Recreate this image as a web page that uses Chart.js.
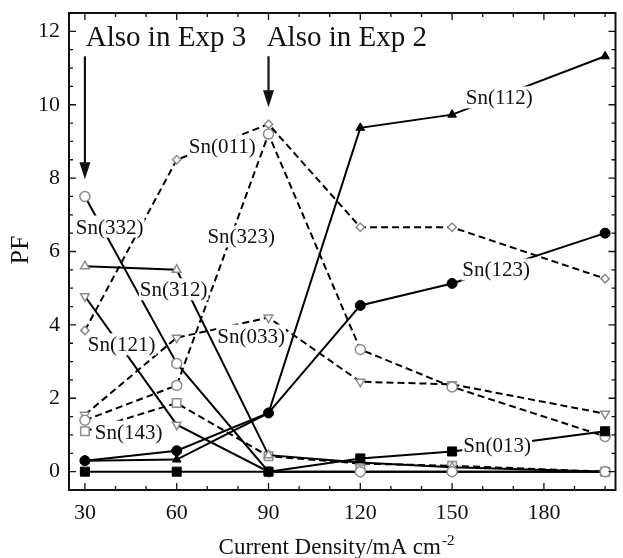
<!DOCTYPE html>
<html>
<head>
<meta charset="utf-8">
<script src="https://cdn.jsdelivr.net/npm/chart.js@4.4.1/dist/chart.umd.min.js"></script>
<style>
  html, body { margin: 0; padding: 0; background: #fff; }
  #wrap { width: 623px; height: 558px; }
</style>
</head>
<body>
<div id="wrap"><canvas id="pf" width="623" height="558"></canvas></div>
<script>
// Current density (mA cm^-2) and preferred-orientation factor of each Sn plane
const currentDensity = [30, 60, 90, 120, 150, 200];
const sn112 = [0.3, 0.33, 1.6, 9.37, 9.73, 11.32];
const sn123 = [0.3, 0.57, 1.6, 4.53, 5.13, 6.5];
const sn013 = [0, 0, 0, 0.36, 0.55, 1.1];
const sn332 = [7.5, 2.95, 0, 0, 0, 0];
const sn312 = [5.6, 5.5, 0.45, 0.25, 0.12, 0];
const sn121 = [4.78, 1.28, 0, 0, 0, 0];
const sn011 = [3.85, 8.5, 9.47, 6.66, 6.66, 5.26];
const sn323 = [1.4, 2.35, 9.2, 3.33, 2.31, 0.96];
const sn033 = [1.55, 3.65, 4.2, 2.45, 2.38, 1.58];
const sn143 = [1.1, 1.87, 0.42, 0.22, 0.16, 0];
const xTicks = [30, 60, 90, 120, 150, 180];
const yTicks = [0, 2, 4, 6, 8, 10, 12];

const SERIF = '"Liberation Serif", "Times New Roman", serif';
const OPEN_GREY = '#8c8c8c';

// marker / line style per plane
const seriesDefs = [
  { name: 'Sn(112)', values: sn112, style: 'triangle', filled: true,  dashed: false, r: 5 },
  { name: 'Sn(123)', values: sn123, style: 'circle',   filled: true,  dashed: false, r: 5 },
  { name: 'Sn(013)', values: sn013, style: 'rect',     filled: true,  dashed: false, r: 6.4 },
  { name: 'Sn(332)', values: sn332, style: 'circle',   filled: false, dashed: false, r: 5 },
  { name: 'Sn(312)', values: sn312, style: 'triangle', filled: false, dashed: false, r: 5 },
  { name: 'Sn(121)', values: sn121, style: 'triangle', filled: false, dashed: false, r: 5, rot: 180 },
  { name: 'Sn(011)', values: sn011, style: 'rectRot',  filled: false, dashed: true,  r: 4.2 },
  { name: 'Sn(323)', values: sn323, style: 'circle',   filled: false, dashed: true,  r: 5 },
  { name: 'Sn(033)', values: sn033, style: 'triangle', filled: false, dashed: true,  r: 5, rot: 180 },
  { name: 'Sn(143)', values: sn143, style: 'rect',     filled: false, dashed: true,  r: 6 }
];

// where each plane's name is written (data coordinates)
const planeLabels = [
  { text: 'Sn(011)', x: 74.9, y: 8.87 },
  { text: 'Sn(332)', x: 38.1, y: 6.68 },
  { text: 'Sn(323)', x: 81.1, y: 6.41 },
  { text: 'Sn(112)', x: 165.4, y: 10.2 },
  { text: 'Sn(123)', x: 164.4, y: 5.51 },
  { text: 'Sn(312)', x: 59.0, y: 4.97 },
  { text: 'Sn(033)', x: 84.3, y: 3.71 },
  { text: 'Sn(121)', x: 42.0, y: 3.47 },
  { text: 'Sn(143)', x: 44.3, y: 1.09 },
  { text: 'Sn(013)', x: 164.7, y: 0.74 }
];

// "Also in Exp" call-outs: text start, arrow top and arrow tip
const callouts = [
  { text: 'Also in Exp 3', tx: 30.3, ty: 11.6, ax: 30, y0: 11.32, y1: 7.97 },
  { text: 'Also in Exp 2', tx: 89.4, ty: 11.6, ax: 90, y0: 11.32, y1: 9.93 }
];

const datasets = seriesDefs.map(d => ({
  label: d.name,
  data: currentDensity.map((x, i) => ({ x, y: d.values[i] })),
  borderColor: '#000',
  borderWidth: 2,
  borderDash: d.dashed ? [7, 4] : [],
  tension: 0,
  fill: false,
  pointStyle: d.style,
  pointRotation: d.rot || 0,
  pointRadius: d.r,
  pointBorderWidth: d.filled ? 1 : 1.5,
  pointBorderColor: d.filled ? '#000' : OPEN_GREY,
  pointBackgroundColor: d.filled ? '#000' : '#fff'
}));

const decorations = {
  id: 'decorations',
  afterDatasetsDraw(chart) {
    const { ctx, scales: { x, y } } = chart;
    ctx.save();
    // plane names on white patches
    ctx.font = '21px ' + SERIF;
    ctx.textAlign = 'center';
    ctx.textBaseline = 'alphabetic';
    planeLabels.forEach(l => {
      const px = x.getPixelForValue(l.x);
      const py = y.getPixelForValue(l.y);
      const w = ctx.measureText(l.text).width;
      ctx.fillStyle = '#fff';
      ctx.fillRect(px - w / 2 - 1, py - 11, w + 2, 22);
      ctx.fillStyle = '#111';
      ctx.fillText(l.text, px, py + 7);
    });
    // call-outs with arrows
    ctx.textAlign = 'left';
    ctx.font = '29px ' + SERIF;
    callouts.forEach(c => {
      ctx.fillStyle = '#111';
      ctx.fillText(c.text, x.getPixelForValue(c.tx), y.getPixelForValue(c.ty));
      const ax = x.getPixelForValue(c.ax);
      const top = y.getPixelForValue(c.y0);
      const tip = y.getPixelForValue(c.y1);
      ctx.strokeStyle = '#111';
      ctx.lineWidth = 2.2;
      ctx.beginPath();
      ctx.moveTo(ax, top);
      ctx.lineTo(ax, tip - 12);
      ctx.stroke();
      ctx.beginPath();
      ctx.moveTo(ax - 5.5, tip - 17);
      ctx.lineTo(ax + 5.5, tip - 17);
      ctx.lineTo(ax, tip);
      ctx.closePath();
      ctx.fill();
    });
    ctx.restore();
  },
  afterDraw(chart) {
    const { ctx, chartArea: a, scales: { x, y } } = chart;
    ctx.save();
    ctx.strokeStyle = '#111';
    ctx.lineWidth = 2;
    ctx.strokeRect(a.left, a.top, a.right - a.left, a.bottom - a.top);
    ctx.lineWidth = 1.3;
    ctx.beginPath();
    // inward ticks on all four sides
    for (let v = 30; v <= 200; v += 10) {
      const px = x.getPixelForValue(v);
      const len = xTicks.includes(v) ? 7 : 4;
      ctx.moveTo(px, a.bottom); ctx.lineTo(px, a.bottom - len);
      ctx.moveTo(px, a.top); ctx.lineTo(px, a.top + len);
    }
    for (let v = 0; v <= 12; v += 0.5) {
      const py = y.getPixelForValue(v);
      const len = yTicks.includes(v) ? 7 : 4;
      ctx.moveTo(a.left, py); ctx.lineTo(a.left + len, py);
      ctx.moveTo(a.right, py); ctx.lineTo(a.right - len, py);
    }
    ctx.stroke();
    // axis titles
    ctx.fillStyle = '#111';
    ctx.font = '26px ' + SERIF;
    ctx.textAlign = 'center';
    ctx.textBaseline = 'middle';
    ctx.translate(21, 250);
    ctx.rotate(-Math.PI / 2);
    ctx.fillText('PF', 0, 0);
    ctx.setTransform(1, 0, 0, 1, 0, 0);
    ctx.textBaseline = 'alphabetic';
    ctx.textAlign = 'left';
    ctx.font = '23px ' + SERIF;
    const main = 'Current Density/mA cm';
    const w = ctx.measureText(main).width;
    ctx.font = '15px ' + SERIF;
    const sw = ctx.measureText('-2').width;
    const x0 = 336 - (w + sw) / 2;
    ctx.font = '23px ' + SERIF;
    ctx.fillText(main, x0, 554);
    ctx.font = '15px ' + SERIF;
    ctx.fillText('-2', x0 + w + 1, 545);
    ctx.restore();
  }
};

new Chart(document.getElementById('pf'), {
  type: 'line',
  data: { datasets },
  options: {
    responsive: false,
    animation: false,
    layout: { padding: { top: 13, right: 2, left: 0, bottom: 0 } },
    plugins: { legend: { display: false }, tooltip: { enabled: false } },
    scales: {
      x: {
        type: 'linear',
        min: 24.8,
        max: 203.4,
        afterFit: s => { s.height = 68; s.paddingLeft = 0; s.paddingRight = 0; },
        afterBuildTicks: s => { s.ticks = xTicks.map(v => ({ value: v })); },
        grid: { display: false, drawTicks: false },
        border: { display: false },
        ticks: {
          font: { family: SERIF, size: 22 },
          color: '#111',
          padding: 10,
          maxRotation: 0,
          autoSkip: false
        }
      },
      y: {
        type: 'linear',
        min: -0.5,
        max: 12.5,
        afterFit: s => { s.width = 69; s.paddingTop = 0; s.paddingBottom = 0; },
        afterBuildTicks: s => { s.ticks = yTicks.map(v => ({ value: v })); },
        grid: { display: false, drawTicks: false },
        border: { display: false },
        ticks: {
          font: { family: SERIF, size: 22 },
          color: '#111',
          padding: 9,
          autoSkip: false
        }
      }
    }
  },
  plugins: [decorations]
});
</script>
</body>
</html>
